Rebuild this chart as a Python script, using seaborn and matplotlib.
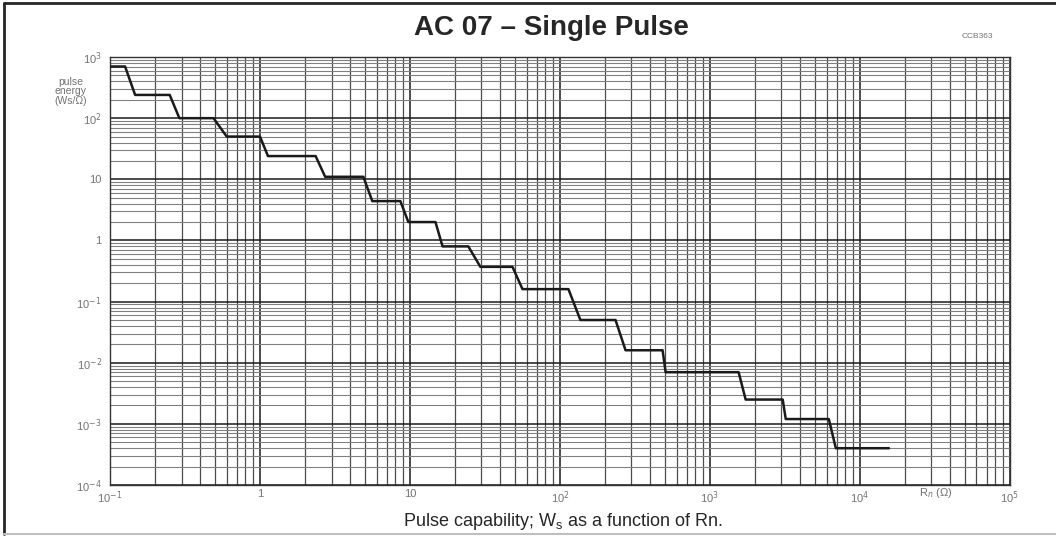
import numpy as np
import pandas as pd
import seaborn as sns
import matplotlib.pyplot as plt
from matplotlib.lines import Line2D
from matplotlib.ticker import LogLocator, NullFormatter

# Pulse energy steps (Ws/Ohm), with the Rn range of each flat part
level_energy = [700, 240, 100, 50, 24, 11, 4.4, 2.0, 0.8, 0.37, 0.16,
                0.05, 0.016, 0.007, 0.0025, 0.0012, 0.0004]
level_r_start = [0.1, 0.147, 0.29, 0.60, 1.13, 2.72, 5.61, 9.76, 16.5, 29.5,
                 56.3, 137, 274, 507, 1733, 3207, 6920]
level_r_end = [0.126, 0.25, 0.49, 1.0, 2.35, 4.89, 8.63, 14.8, 24.5, 48.3,
               114, 235, 484, 1556, 3062, 6213, 15640]

x_ticks = [0.1, 1, 10, 100, 1e3, 1e4, 1e5]
x_tick_labels = ['10$^{-1}$', '1', '10', '10$^2$', '10$^3$', '10$^4$', '10$^5$']
y_ticks = [1e-4, 1e-3, 1e-2, 1e-1, 1, 10, 100, 1e3]
y_tick_labels = ['10$^{-4}$', '10$^{-3}$', '10$^{-2}$', '10$^{-1}$', '1', '10',
                 '10$^2$', '10$^3$']

# polyline: each level runs flat, then slants down to the next one
pts_r, pts_e = [], []
for r0, r1, e in zip(level_r_start, level_r_end, level_energy):
    pts_r += [r0, r1]
    pts_e += [e, e]
curve = pd.DataFrame({'Rn': pts_r, 'energy': pts_e})

sns.set_style('white')
plt.rcParams['font.family'] = ['Liberation Sans', 'DejaVu Sans']

fig = plt.figure(figsize=(10.56, 5.36), dpi=100)
ax = fig.add_axes([0.1042, 0.0951, 0.852, 0.7985])

sns.lineplot(data=curve, x='Rn', y='energy', sort=False, color='#1a1a1a',
             linewidth=1.8, ax=ax, zorder=5)

ax.set_xscale('log')
ax.set_yscale('log')
ax.set_xlim(0.1, 1e5)
ax.set_ylim(1e-4, 1e3)

ax.xaxis.set_minor_locator(LogLocator(base=10, subs=np.arange(2, 10), numticks=20))
ax.yaxis.set_minor_locator(LogLocator(base=10, subs=np.arange(2, 10), numticks=20))
ax.xaxis.set_minor_formatter(NullFormatter())
ax.yaxis.set_minor_formatter(NullFormatter())
ax.grid(which='major', axis='both', color='0.1', linewidth=1.1)
ax.grid(which='minor', axis='x', color='0.3', linewidth=0.9)
ax.grid(which='minor', axis='y', color='0.5', linewidth=0.8)

ax.set_xticks(x_ticks)
ax.set_xticklabels(x_tick_labels)
ax.set_yticks(y_ticks)
ax.set_yticklabels(y_tick_labels)
ax.tick_params(axis='both', which='both', length=0, labelsize=8, labelcolor='0.45')
ax.tick_params(axis='x', pad=3)
ax.tick_params(axis='y', pad=6)
ax.set_xlabel('')
ax.set_ylabel('')
for s in ax.spines.values():
    s.set_color('0.2')
    s.set_linewidth(1.0)

fig.text(0.067, 0.83, 'pulse\nenergy\n(Ws/Ω)', fontsize=7.5, color='0.45',
         ha='center', va='center', linespacing=0.95)
fig.text(0.886, 0.074, 'R$_n$ (Ω)', fontsize=8, color='0.45', ha='center')
fig.text(0.926, 0.93, 'CCB363', fontsize=6, color='0.45', ha='center')

fig.text(0.522, 0.948, 'AC 07 – Single Pulse', fontsize=20, fontweight='bold',
         ha='center', va='center')
fig.text(0.533, 0.027, 'Pulse capability; W$_\\mathregular{s}$ as a function of Rn.',
         fontsize=13, ha='center', va='center')

# page frame of the scan: dark top and left edges, light bottom edge
fig.lines.append(Line2D([0.004, 0.004], [0.004, 0.994], transform=fig.transFigure,
                        color='0.15', linewidth=2))
fig.lines.append(Line2D([0.004, 1.0], [0.994, 0.994], transform=fig.transFigure,
                        color='0.15', linewidth=2))
fig.lines.append(Line2D([0.004, 1.0], [0.003, 0.003], transform=fig.transFigure,
                        color='0.75', linewidth=1.5))

fig.savefig('out.png', dpi=100)
